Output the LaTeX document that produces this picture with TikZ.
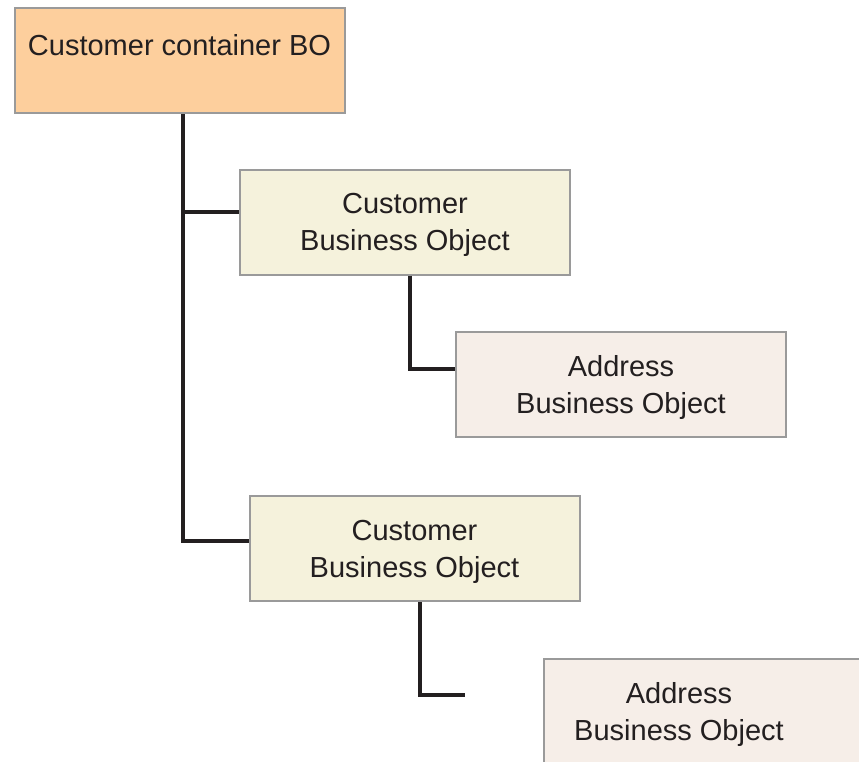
\documentclass[tikz,border=0pt]{standalone}
\usepackage{fontspec}
\setmainfont{Liberation Sans}
\definecolor{boxorange}{HTML}{FDCF9D}
\definecolor{boxyellow}{HTML}{F5F2DC}
\definecolor{boxpink}{HTML}{F6EEE8}
\definecolor{boxgrey}{HTML}{9A9A9A}
\definecolor{linecol}{HTML}{231F20}
\definecolor{textcol}{HTML}{231F20}
\newcommand{\lowstrut}{\rule{0pt}{27pt}}
\begin{document}
\begin{tikzpicture}[x=1pt,y=-1pt,
  box/.style={draw=boxgrey, line width=2pt, minimum width=330pt, minimum height=105pt,
    inner sep=0pt, align=center, font=\fontsize{29}{37}\selectfont, text=textcol},
  label29/.style={inner sep=0pt, align=center, font=\fontsize{29}{37}\selectfont, text=textcol},
  conn/.style={line width=3.3pt, draw=linecol, line join=miter}]
\useasboundingbox (0,0) rectangle (859,761);
\clip (0,0) rectangle (859,761);
\node[box, fill=boxorange] (cont) at (179.5,60.5) {\lowstrut Customer container BO\\~};
\node[box, fill=boxyellow] (cbo1) at (405,222) {\lowstrut Customer\\Business Object};
\node[box, fill=boxpink] (addr1) at (621,384.5) {\lowstrut Address\\Business Object};
\node[box, fill=boxyellow] (cbo2) at (414.5,548.5) {\lowstrut Customer\\Business Object};
\node[box, fill=boxpink] (addr2) at (708.5,711) {};
\node[label29] (addr2text) at (679,714.5) {Address\\Business Object};
\coordinate (t1) at (183,212);
\coordinate (t2) at (183,541);
\coordinate (b1) at (410,369);
\coordinate (b2) at (420,695);
\coordinate (b2end) at (465,695);
\draw[conn] (cont.south -| t2) -- (t2) -- (cbo2.west |- t2);
\draw[conn] (t1) -- (cbo1.west |- t1);
\draw[conn] (cbo1.south -| b1) |- (addr1.west |- b1);
\draw[conn] (cbo2.south -| b2) |- (b2end);
\end{tikzpicture}
\end{document}
